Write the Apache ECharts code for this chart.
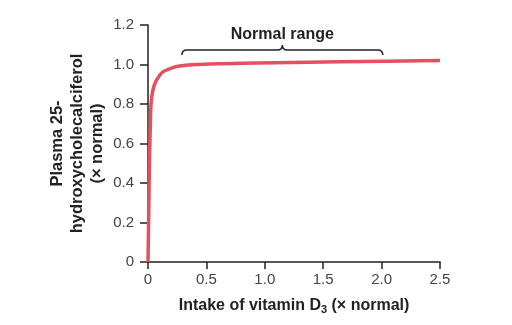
<!DOCTYPE html>
<html>
<head>
<meta charset="utf-8">
<script src="https://cdn.jsdelivr.net/npm/echarts@6/dist/echarts.min.js"></script>
<style>html,body{margin:0;padding:0;background:#fff;}#c{width:512px;height:325px;}</style>
</head>
<body>
<div id="c"></div>
<script>
// Data
var intake = [0, 0.004, 0.008, 0.011, 0.016, 0.02, 0.026, 0.04, 0.06, 0.1, 0.13, 0.2, 0.27, 0.42, 0.8, 1.65, 2.5];
var plasma = [0, 0.15, 0.32, 0.45, 0.6, 0.7, 0.8, 0.865, 0.905, 0.945, 0.964, 0.982, 0.992, 1.0, 1.006, 1.014, 1.02];
var xTicks = [0, 0.5, 1.0, 1.5, 2.0, 2.5];
var yTicks = [0, 0.2, 0.4, 0.6, 0.8, 1.0, 1.2];
var normalRange = [0.29, 2.01];
var braceLevel = [1.073];
var normalLabel = ['Normal range'];
var normalLabelLevel = [1.15];

var font = '"Liberation Sans", Arial, Helvetica, sans-serif';
var curve = intake.map(function (x, i) { return [x, plasma[i]]; });
function fmt(v) { return v === 0 ? '0' : v.toFixed(1); }

var chart = echarts.init(document.getElementById('c'), null, {renderer: 'canvas'});
chart.setOption({
  animation: false,
  backgroundColor: '#ffffff',
  grid: {left: 148, right: 72, top: 25, bottom: 63, containLabel: false},
  xAxis: {
    type: 'value', min: xTicks[0], max: xTicks[xTicks.length - 1], interval: 0.5,
    name: '{b|Intake of vitamin D}{s|3}{b| (× normal)}',
    nameLocation: 'middle', nameGap: 34,
    nameTextStyle: {
      rich: {
        b: {fontFamily: font, fontSize: 16, fontWeight: 'bold', color: '#222'},
        s: {fontFamily: font, fontSize: 11, fontWeight: 'bold', color: '#222', verticalAlign: 'bottom', padding: [8, 0, 0, 0]}
      }
    },
    axisLine: {show: true, onZero: false, lineStyle: {color: '#222', width: 1.5}},
    axisTick: {show: true, length: 7, lineStyle: {color: '#222', width: 1.5}},
    axisLabel: {formatter: fmt, fontFamily: font, fontSize: 15, color: '#444', margin: 10},
    splitLine: {show: false}
  },
  yAxis: {
    type: 'value', min: yTicks[0], max: yTicks[yTicks.length - 1], interval: 0.2,
    name: 'Plasma 25-\nhydroxycholecalciferol\n(× normal)',
    nameLocation: 'middle', nameGap: 41, nameRotate: 90, nameMoveOverlap: false,
    nameTextStyle: {fontFamily: font, fontSize: 16.5, fontWeight: 'bold', color: '#222', lineHeight: 20, align: 'center'},
    axisLine: {show: true, onZero: false, lineStyle: {color: '#222', width: 1.5}},
    axisTick: {show: true, length: 8, lineStyle: {color: '#222', width: 1.5}},
    axisLabel: {formatter: fmt, fontFamily: font, fontSize: 15, color: '#444', margin: 14},
    splitLine: {show: false}
  },
  series: [
    {
      type: 'line', data: curve, showSymbol: false, smooth: 0.3,
      lineStyle: {color: '#e4505e', width: 3.5}, z: 3
    },
    {
      type: 'custom', z: 4, silent: true,
      data: [[normalRange[0], normalRange[1], braceLevel[0], normalLabelLevel[0]]],
      renderItem: function (params, api) {
        var a = api.coord([api.value(0), api.value(2)]);
        var b = api.coord([api.value(1), api.value(2)]);
        var t = api.coord([(api.value(0) + api.value(1)) / 2, api.value(3)]);
        var y = a[1], x1 = a[0], x2 = b[0], xm = (x1 + x2) / 2;
        var p = 'M' + x1 + ' ' + (y + 5) +
          ' Q' + x1 + ' ' + y + ' ' + (x1 + 5) + ' ' + y +
          ' L' + (xm - 5) + ' ' + y +
          ' Q' + xm + ' ' + y + ' ' + xm + ' ' + (y - 5) +
          ' Q' + xm + ' ' + y + ' ' + (xm + 5) + ' ' + y +
          ' L' + (x2 - 5) + ' ' + y +
          ' Q' + x2 + ' ' + y + ' ' + x2 + ' ' + (y + 5);
        return {
          type: 'group',
          children: [
            {type: 'path', shape: {pathData: p}, style: {fill: null, stroke: '#222', lineWidth: 1.5}},
            {type: 'text', x: t[0], y: t[1], style: {text: normalLabel[0], fontFamily: font, fontSize: 16, fontWeight: 'bold', fill: '#222', align: 'center', verticalAlign: 'middle'}}
          ]
        };
      }
    }
  ]
});
</script>
</body>
</html>
